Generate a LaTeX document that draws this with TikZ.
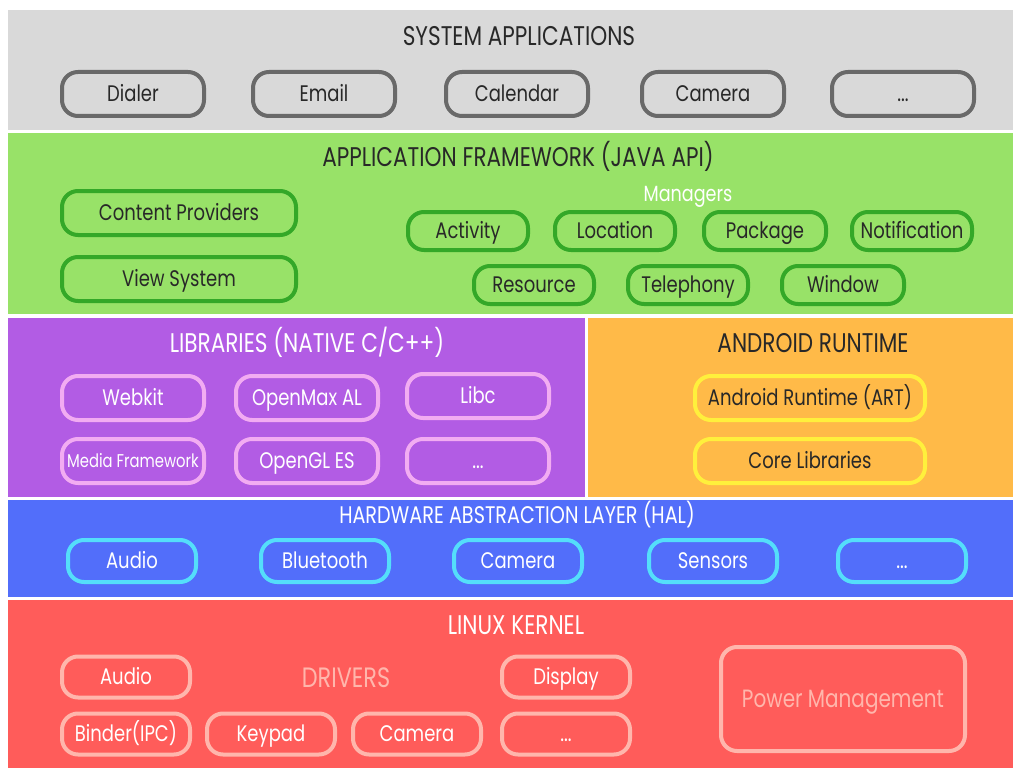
\documentclass[tikz,border=0pt]{standalone}
\usepackage{fontspec}
\setmainfont{Poppins}[FakeStretch=0.8]
\usepackage{tikz}
\usetikzlibrary{positioning}
\definecolor{sysbg}{RGB}{217,217,217}
\definecolor{sysline}{RGB}{105,105,105}
\definecolor{fwbg}{RGB}{152,226,104}
\definecolor{fwline}{RGB}{52,168,40}
\definecolor{libbg}{RGB}{178,92,228}
\definecolor{libline}{RGB}{242,172,242}
\definecolor{rtbg}{RGB}{255,186,72}
\definecolor{rtline}{RGB}{255,240,60}
\definecolor{halbg}{RGB}{82,110,250}
\definecolor{halline}{RGB}{84,222,250}
\definecolor{krbg}{RGB}{255,92,90}
\definecolor{krline}{RGB}{255,182,172}
\definecolor{ink}{RGB}{40,40,40}

\begin{document}
\begin{tikzpicture}[x=1pt, y=-1pt,
  every node/.style={font=\fontsize{22.5}{26}\selectfont, inner sep=0pt,
                     text height=15.5pt, text depth=0pt},
  b/.style={rectangle, rounded corners=16pt, line width=4pt,
             minimum width=142pt, minimum height=44pt, align=center},
  sysb/.style={b, draw=sysline, text=ink},
  fwb/.style={b, draw=fwline, text=ink},
  libb/.style={b, draw=libline, text=white},
  rtb/.style={b, draw=rtline, text=ink, minimum width=230pt},
  halb/.style={b, draw=halline, text=white, minimum width=128pt, minimum height=42pt},
  krb/.style={b, draw=krline, text=white, minimum width=128pt, minimum height=41pt},
  ttl/.style={font=\fontsize{27}{30}\selectfont, text height=19pt},
]
\useasboundingbox (0,0) rectangle (1013,768);
\fill[white] (0,0) rectangle (1013,768);
% layers
\fill[sysbg] (8,10) rectangle (1013,130);
\fill[fwbg]  (8,133) rectangle (1013,314);
\fill[libbg] (8,318) rectangle (585,497);
\fill[rtbg]  (588,318) rectangle (1013,497);
\fill[halbg] (8,500) rectangle (1013,597);
\fill[krbg]  (8,600) rectangle (1013,768);

% system applications
\node[ttl, text=ink] (sys) at (519,36) {SYSTEM APPLICATIONS};
\node[sysb] (dl) at (133,94) {Dialer};
\node[sysb] (em) at (324,94) {Email};
\node[sysb] (cl) at (517,94) {Calendar};
\node[sysb] (cm) at (713,94) {Camera};
\node[sysb] (sx) at (903,94) {...};

% application framework
\node[ttl, text=ink] (fw) at (518,157) {APPLICATION FRAMEWORK (JAVA API)};
\node[fwb, minimum width=234pt] (cp) at (179,213) {Content Providers};
\node[fwb, minimum width=234pt] (vs) at (179,279) {View System};
\node[text=white, font=\fontsize{22}{26}\selectfont] (mg) at (688,194) {Managers};
\node[fwb, minimum width=120pt, minimum height=38pt] (ac) at (468,231) {Activity};
\node[fwb, minimum width=120pt, minimum height=38pt] (lc) at (615,231) {Location};
\node[fwb, minimum width=122pt, minimum height=38pt] (pk) at (765,231) {Package};
\node[fwb, minimum width=120pt, minimum height=38pt] (nt) at (912,231) {Notification};
\node[fwb, minimum width=120pt, minimum height=38pt] (rs) at (534,285) {Resource};
\node[fwb, minimum width=120pt, minimum height=38pt] (tp) at (688,285) {Telephony};
\node[fwb, minimum width=122pt, minimum height=38pt] (wn) at (843,285) {Window};

% native libraries
\node[ttl, text=white] (lib) at (307,343) {LIBRARIES (NATIVE C/C++)};
\node[libb] (wk) at (133,398) {Webkit};
\node[libb] (om) at (307,398) {OpenMax AL};
\node[libb] (lc2) at (478,396) {Libc};
\node[libb, font=\fontsize{18.5}{22}\selectfont, text height=13pt] (mf) at (133,461) {Media Framework};
\node[libb] (gl) at (307,461) {OpenGL ES};
\node[libb] (lx) at (478,461) {...};

% android runtime
\node[ttl, text=ink] (rt) at (813,343) {ANDROID RUNTIME};
\node[rtb] (art) at (810,398) {Android Runtime (ART)};
\node[rtb] (cr) at (810,461) {Core Libraries};

% hal
\node[ttl, text=white, font=\fontsize{24}{28}\selectfont, text height=17pt] (hal) at (517,515) {HARDWARE ABSTRACTION LAYER (HAL)};
\node[halb] (ha) at (132,561) {Audio};
\node[halb] (hb) at (325,561) {Bluetooth};
\node[halb] (hc) at (518,561) {Camera};
\node[halb] (hs) at (713,561) {Sensors};
\node[halb] (hx) at (902,561) {...};

% linux kernel
\node[ttl, text=white] (kr) at (516,625) {LINUX KERNEL};
\node[text=krline, font=\fontsize{28}{32}\selectfont, text height=19.5pt] (dr) at (346,678) {DRIVERS};
\node[krb] (ka) at (126,677) {Audio};
\node[krb] (kd) at (566,677) {Display};
\node[krb] (kb) at (126,734) {Binder(IPC)};
\node[krb] (kk) at (271,734) {Keypad};
\node[krb] (kc) at (417,734) {Camera};
\node[krb] (kx) at (566,734) {...};
\node[krb, text=krline, minimum width=244pt, minimum height=104pt,
      font=\fontsize{25}{29}\selectfont, text height=17.5pt] (pm) at (843,699) {Power Management};
\end{tikzpicture}
\end{document}
